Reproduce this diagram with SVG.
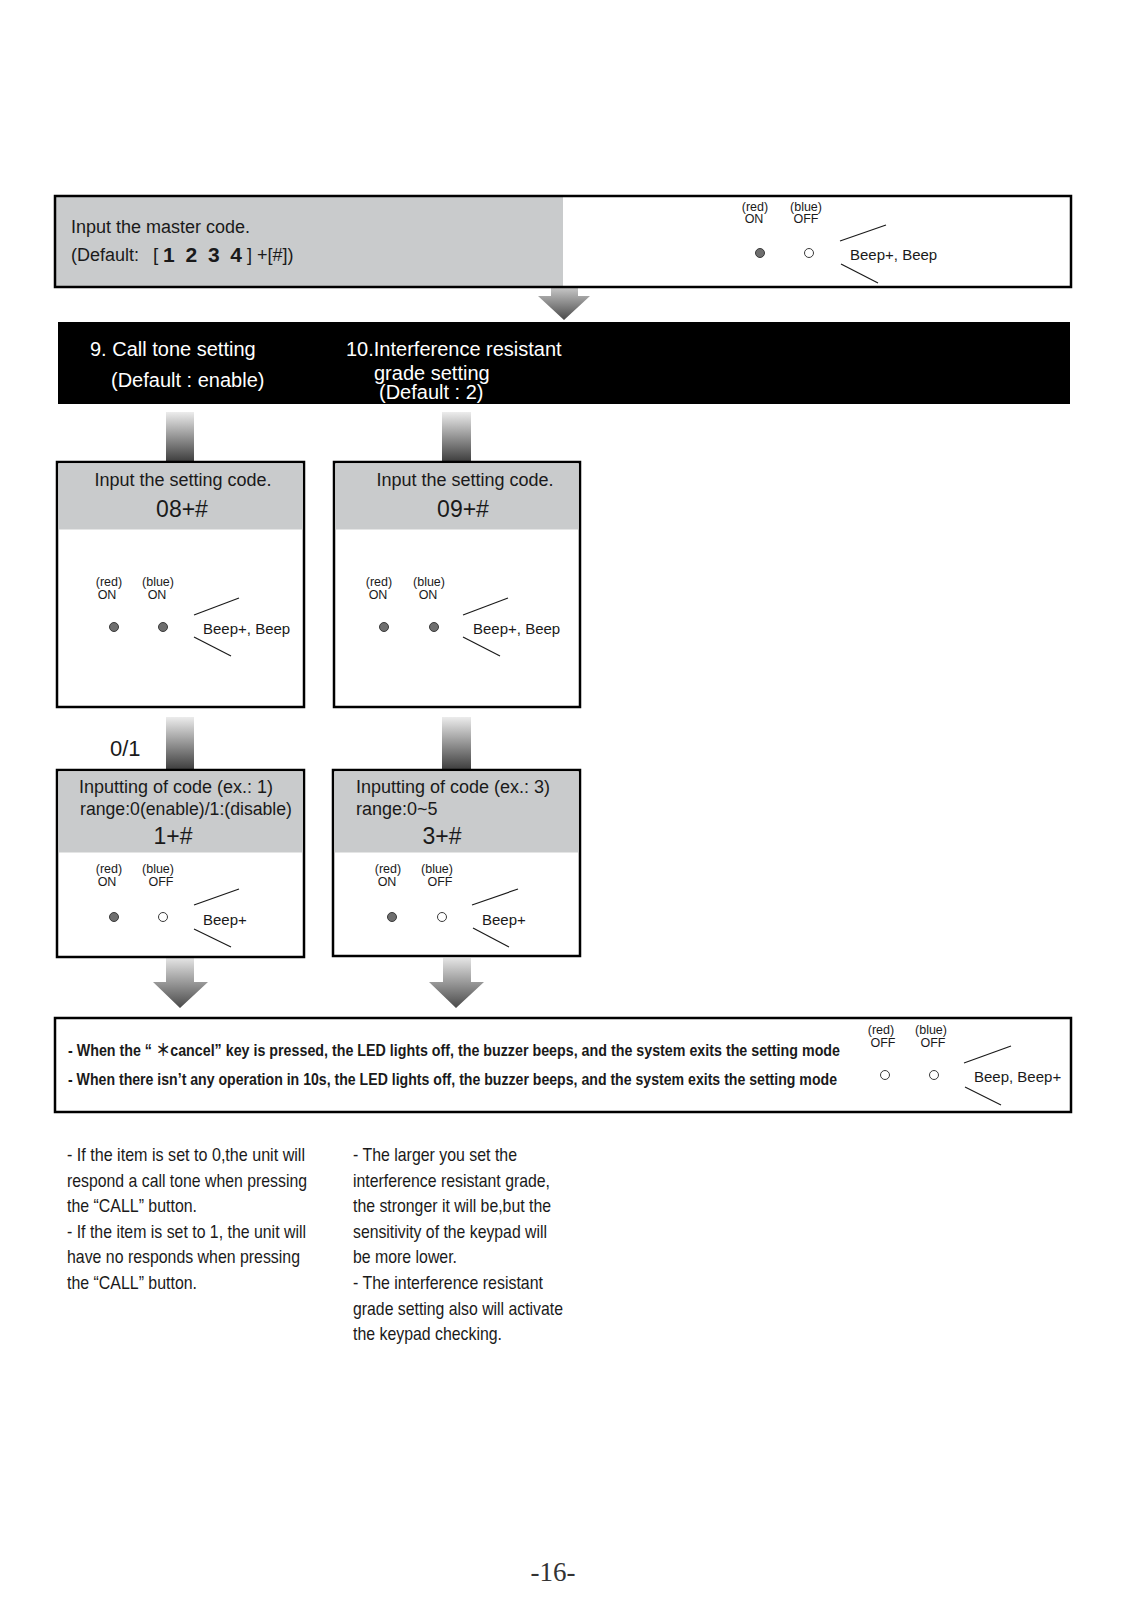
<svg xmlns="http://www.w3.org/2000/svg" width="1128" height="1601" viewBox="0 0 1128 1601">
<style>
.t{font-family:"Liberation Sans",Arial,sans-serif;fill:#1a1a1a}
.w{font-family:"Liberation Sans",Arial,sans-serif;fill:#fff;font-size:20px}
.s{font-family:"Liberation Sans",Arial,sans-serif;fill:#1a1a1a;font-size:12.5px;text-anchor:middle}
.box{fill:#fff;stroke:#000;stroke-width:2.5}
.hdr{fill:#c9cbcc}
.frame{fill:none;stroke:#000;stroke-width:2.5}
.on{fill:#6e6e6e;stroke:#3a3a3a;stroke-width:1}
.off{fill:#fff;stroke:#3a3a3a;stroke-width:1}
.ln{stroke:#1a1a1a;stroke-width:1.2}
.n{font-family:"Liberation Sans",Arial,sans-serif;fill:#1a1a1a;font-size:19px}
.b{font-family:"Liberation Sans",Arial,"Noto Sans CJK SC",sans-serif;fill:#1a1a1a;font-size:17px;font-weight:bold}
</style>
<defs>
<linearGradient id="g" x1="0" y1="0" x2="0" y2="1">
<stop offset="0" stop-color="#ececec"/>
<stop offset="1" stop-color="#3c3c3c"/>
</linearGradient>
<linearGradient id="ga" x1="0" y1="0" x2="0" y2="1">
<stop offset="0" stop-color="#e4e4e4"/>
<stop offset="1" stop-color="#4a4a4a"/>
</linearGradient>
</defs>
<rect width="1128" height="1601" fill="#fff"/>

<g id="connectors">
<path d="M551,280 H578 V296 H590 L564,320 L538,296 H551 Z" fill="url(#ga)"/>
<rect x="166" y="412" width="28" height="50" fill="url(#g)"/>
<rect x="442" y="412" width="29" height="50" fill="url(#g)"/>
<rect x="166" y="717" width="28" height="53" fill="url(#g)"/>
<rect x="442" y="717" width="29" height="53" fill="url(#g)"/>
<path d="M166,958 H194 V982 H208 L180,1008 L153,982 H166 Z" fill="url(#ga)"/>
<path d="M443,958 H471 V982 H484 L456,1008 L429,982 H443 Z" fill="url(#ga)"/>
<text class="t" x="110" y="756" font-size="22">0/1</text>
</g>

<g id="master-code">
<rect x="55" y="196" width="1016" height="91" fill="#fff"/>
<rect class="hdr" x="55" y="196" width="508" height="91"/>
<rect class="frame" x="55" y="196" width="1016" height="91"/>
<text class="t" x="71" y="233" font-size="18">Input the master code.</text>
<text class="t" x="71" y="261" font-size="18">(Default:</text>
<text class="t" x="153" y="261" font-size="19">[</text>
<text class="t" x="163" y="262" font-size="21" font-weight="bold" textLength="79" lengthAdjust="spacing">1 2 3 4</text>
<text class="t" x="247" y="261" font-size="18">] +[#])</text>
<text class="s" x="755" y="211">(red)</text>
<text class="s" x="754" y="223">ON</text>
<text class="s" x="806" y="211">(blue)</text>
<text class="s" x="806" y="223">OFF</text>
<circle class="on" cx="760" cy="253" r="4.5"/>
<circle class="off" cx="809" cy="253" r="4.5"/>
<line class="ln" x1="840" y1="241" x2="886" y2="225"/>
<line class="ln" x1="841" y1="264" x2="878" y2="283"/>
<text class="t" x="850" y="260" font-size="15">Beep+, Beep</text>
</g>

<g id="header-band">
<rect x="58" y="322" width="1012" height="82" fill="#000"/>
<text class="w" x="90" y="356">9. Call tone setting</text>
<text class="w" x="111" y="387">(Default : enable)</text>
<text class="w" x="346" y="356">10.Interference resistant</text>
<text class="w" x="374" y="380">grade setting</text>
<text class="w" x="379" y="399">(Default : 2)</text>
</g>

<g id="setting-code-08">
<rect class="box" x="57" y="462" width="247" height="245"/>
<rect class="hdr" x="58.5" y="463.5" width="244" height="66"/>
<text class="t" x="183" y="486" font-size="18" text-anchor="middle">Input the setting code.</text>
<text class="t" x="182" y="517" font-size="23" text-anchor="middle">08+#</text>
<text class="s" x="109" y="586">(red)</text>
<text class="s" x="107" y="599">ON</text>
<text class="s" x="158" y="586">(blue)</text>
<text class="s" x="157" y="599">ON</text>
<circle class="on" cx="114" cy="627" r="4.5"/>
<circle class="on" cx="163" cy="627" r="4.5"/>
<line class="ln" x1="194" y1="615" x2="239" y2="598"/>
<line class="ln" x1="194" y1="637" x2="231" y2="656"/>
<text class="t" x="203" y="634" font-size="15">Beep+, Beep</text>
</g>

<g id="setting-code-09">
<rect class="box" x="334" y="462" width="246" height="245"/>
<rect class="hdr" x="335.5" y="463.5" width="243" height="66"/>
<text class="t" x="465" y="486" font-size="18" text-anchor="middle">Input the setting code.</text>
<text class="t" x="463" y="517" font-size="23" text-anchor="middle">09+#</text>
<text class="s" x="379" y="586">(red)</text>
<text class="s" x="378" y="599">ON</text>
<text class="s" x="429" y="586">(blue)</text>
<text class="s" x="428" y="599">ON</text>
<circle class="on" cx="384" cy="627" r="4.5"/>
<circle class="on" cx="434" cy="627" r="4.5"/>
<line class="ln" x1="463" y1="615" x2="508" y2="598"/>
<line class="ln" x1="463" y1="637" x2="500" y2="656"/>
<text class="t" x="473" y="634" font-size="15">Beep+, Beep</text>
</g>

<g id="input-code-1">
<rect class="box" x="57" y="770" width="247" height="187"/>
<rect class="hdr" x="58.5" y="771.5" width="244" height="81"/>
<text class="t" x="79" y="793" font-size="18">Inputting of code (ex.: 1)</text>
<text class="t" x="80" y="815" font-size="18" textLength="212" lengthAdjust="spacingAndGlyphs">range:0(enable)/1:(disable)</text>
<text class="t" x="173" y="844" font-size="23" text-anchor="middle">1+#</text>
<text class="s" x="109" y="873">(red)</text>
<text class="s" x="107" y="886">ON</text>
<text class="s" x="158" y="873">(blue)</text>
<text class="s" x="161" y="886">OFF</text>
<circle class="on" cx="114" cy="917" r="4.5"/>
<circle class="off" cx="163" cy="917" r="4.5"/>
<line class="ln" x1="194" y1="905" x2="239" y2="889"/>
<line class="ln" x1="194" y1="929" x2="231" y2="947"/>
<text class="t" x="203" y="925" font-size="15">Beep+</text>
</g>

<g id="input-code-3">
<rect class="box" x="333" y="770" width="247" height="186"/>
<rect class="hdr" x="334.5" y="771.5" width="244" height="81"/>
<text class="t" x="356" y="793" font-size="18">Inputting of code (ex.: 3)</text>
<text class="t" x="356" y="815" font-size="18">range:0~5</text>
<text class="t" x="442" y="844" font-size="23" text-anchor="middle">3+#</text>
<text class="s" x="388" y="873">(red)</text>
<text class="s" x="387" y="886">ON</text>
<text class="s" x="437" y="873">(blue)</text>
<text class="s" x="440" y="886">OFF</text>
<circle class="on" cx="392" cy="917" r="4.5"/>
<circle class="off" cx="442" cy="917" r="4.5"/>
<line class="ln" x1="472" y1="905" x2="518" y2="889"/>
<line class="ln" x1="473" y1="928" x2="509" y2="947"/>
<text class="t" x="482" y="925" font-size="15">Beep+</text>
</g>

<g id="exit-info">
<rect class="box" x="55" y="1018" width="1016" height="94"/>
<text class="b" x="68" y="1056" textLength="772" lengthAdjust="spacingAndGlyphs">- When the “ ＊cancel” key is pressed, the LED lights off, the buzzer beeps, and the system exits the setting mode</text>
<text class="b" x="68" y="1085" textLength="769" lengthAdjust="spacingAndGlyphs">- When there isn’t any operation in 10s, the LED lights off, the buzzer beeps, and the system exits the setting mode</text>
<text class="s" x="881" y="1034">(red)</text>
<text class="s" x="883" y="1047">OFF</text>
<text class="s" x="931" y="1034">(blue)</text>
<text class="s" x="933" y="1047">OFF</text>
<circle class="off" cx="885" cy="1075" r="4.5"/>
<circle class="off" cx="934" cy="1075" r="4.5"/>
<line class="ln" x1="964" y1="1063" x2="1011" y2="1046"/>
<line class="ln" x1="965" y1="1087" x2="1001" y2="1105"/>
<text class="t" x="974" y="1082" font-size="15">Beep, Beep+</text>
</g>

<g id="notes-left">
<text class="n" x="67" y="1161" textLength="238" lengthAdjust="spacingAndGlyphs">- If  the item is set to 0,the unit will</text>
<text class="n" x="67" y="1187" textLength="240" lengthAdjust="spacingAndGlyphs">respond a call tone when pressing</text>
<text class="n" x="67" y="1212" textLength="130" lengthAdjust="spacingAndGlyphs">the “CALL” button.</text>
<text class="n" x="67" y="1238" textLength="239" lengthAdjust="spacingAndGlyphs">- If the item is set to 1, the unit will</text>
<text class="n" x="67" y="1263" textLength="233" lengthAdjust="spacingAndGlyphs">have no responds when pressing</text>
<text class="n" x="67" y="1289" textLength="130" lengthAdjust="spacingAndGlyphs">the “CALL” button.</text>
</g>

<g id="notes-right">
<text class="n" x="353" y="1161" textLength="164" lengthAdjust="spacingAndGlyphs">- The larger you set the</text>
<text class="n" x="353" y="1187" textLength="197" lengthAdjust="spacingAndGlyphs">interference resistant grade,</text>
<text class="n" x="353" y="1212" textLength="198" lengthAdjust="spacingAndGlyphs">the stronger it will be,but the</text>
<text class="n" x="353" y="1238" textLength="194" lengthAdjust="spacingAndGlyphs">sensitivity of the keypad will</text>
<text class="n" x="353" y="1263" textLength="104" lengthAdjust="spacingAndGlyphs">be more lower.</text>
<text class="n" x="353" y="1289" textLength="190" lengthAdjust="spacingAndGlyphs">- The interference resistant</text>
<text class="n" x="353" y="1315" textLength="210" lengthAdjust="spacingAndGlyphs">grade setting also will activate</text>
<text class="n" x="353" y="1340" textLength="149" lengthAdjust="spacingAndGlyphs">the keypad checking.</text>
</g>

<g id="page-number">
<text x="553" y="1581" font-family="Liberation Serif,'Times New Roman',serif" font-size="27" fill="#333" text-anchor="middle">-16-</text>
</g>
</svg>
